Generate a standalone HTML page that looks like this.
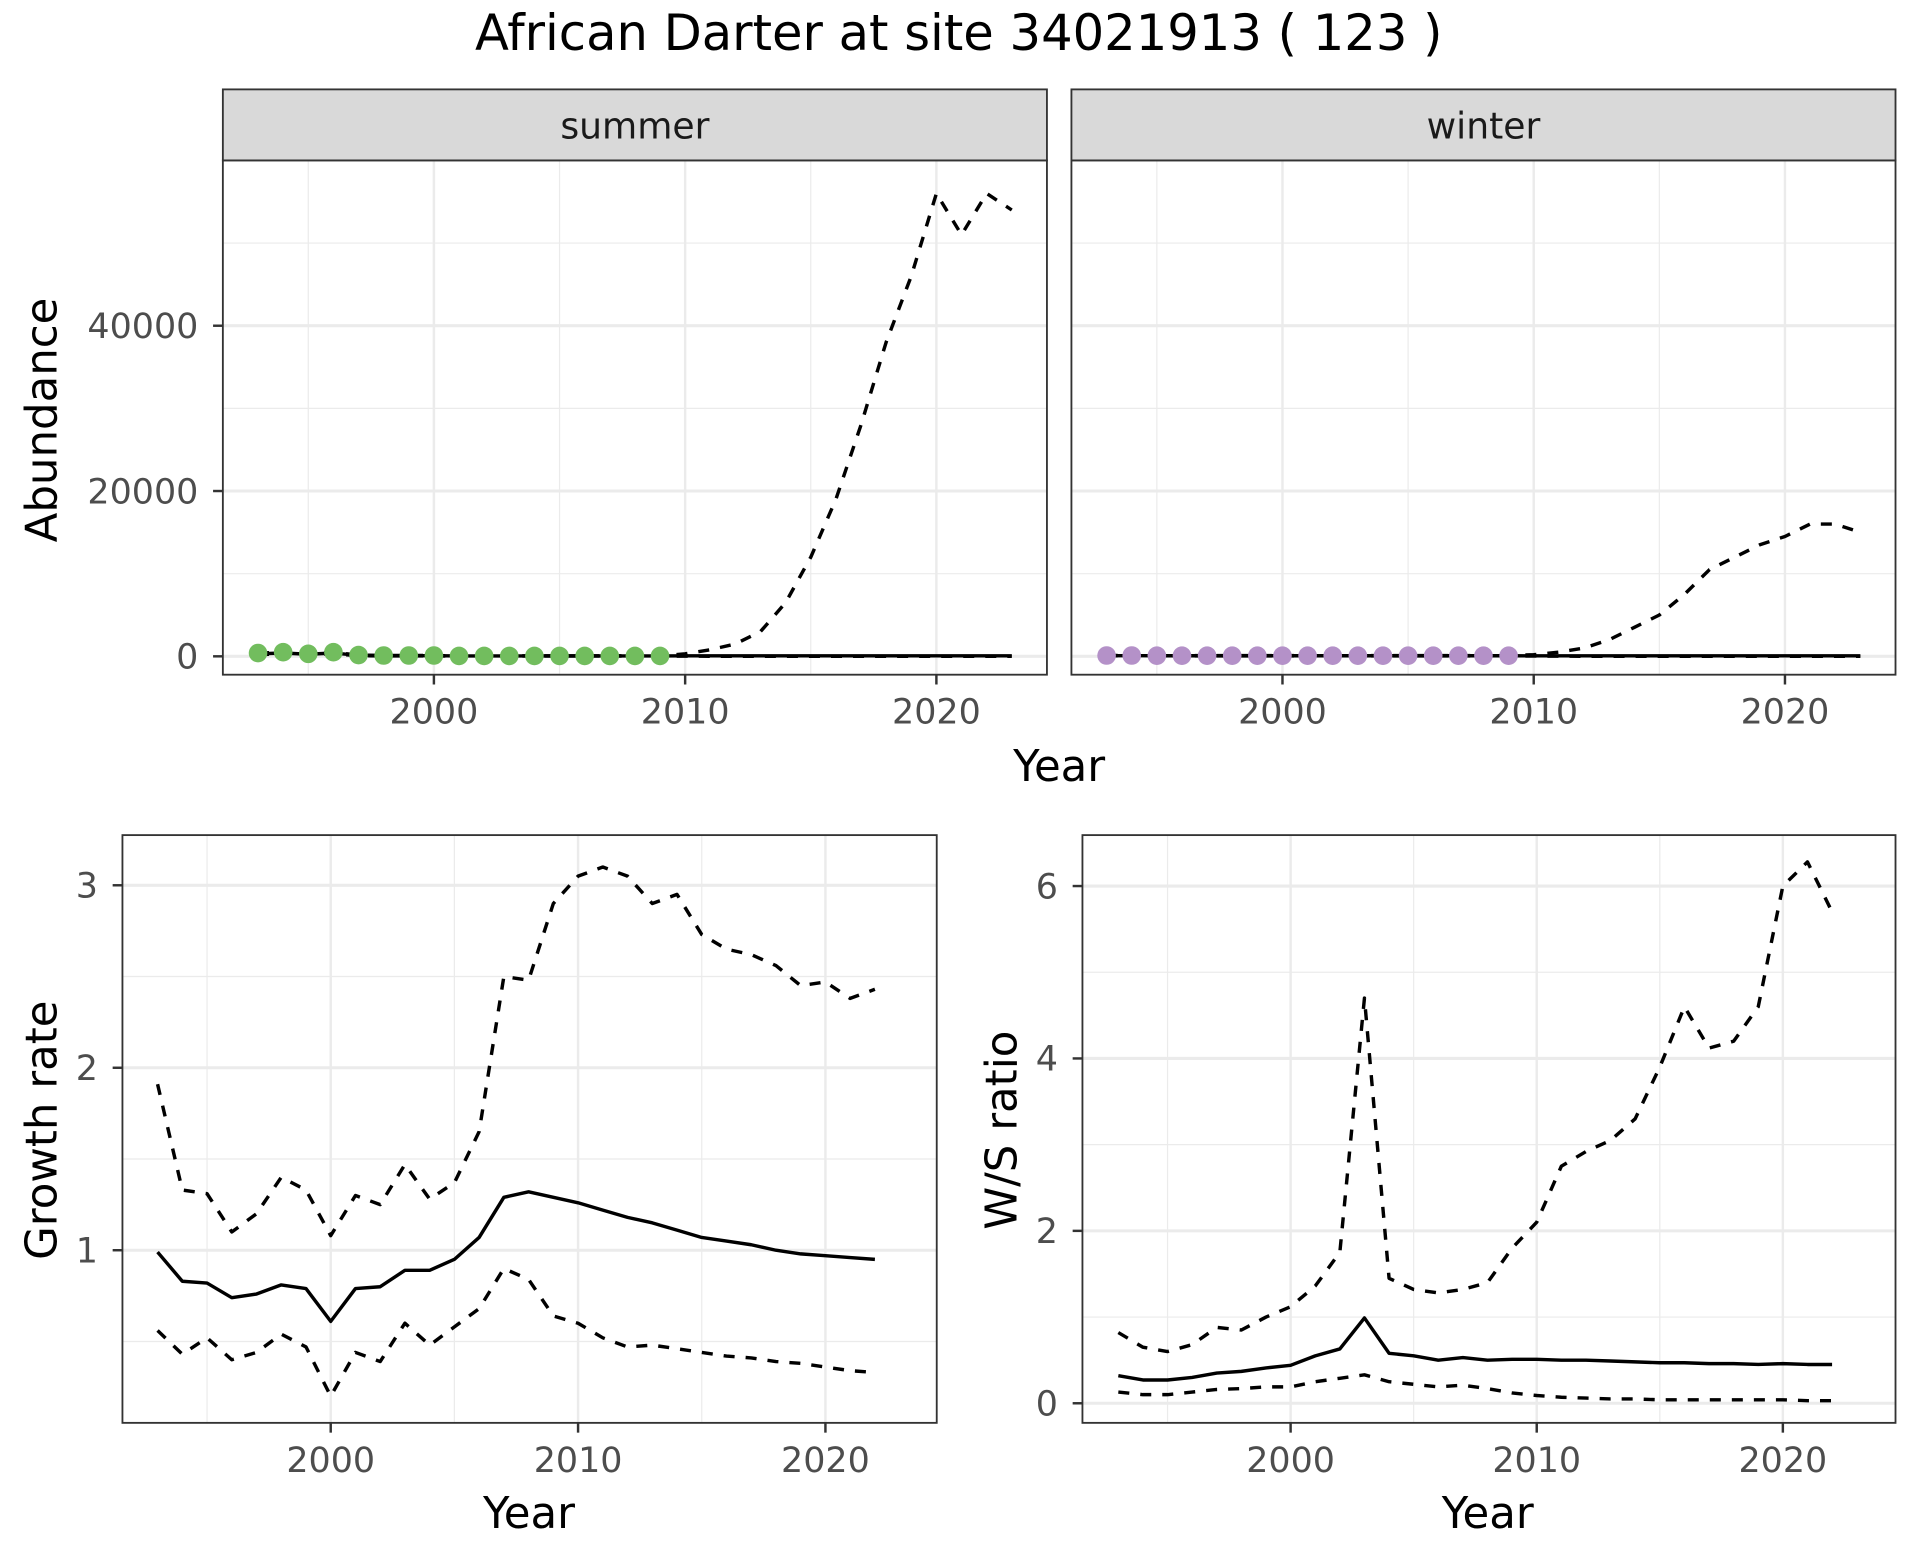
<!DOCTYPE html>
<html><head><meta charset="utf-8">
<style>
html,body{margin:0;padding:0;background:#fff;}
svg{display:block;font-family:"DejaVu Sans","Liberation Sans",sans-serif;}
</style></head>
<body>
<svg id="chart" width="1920" height="1560" viewBox="0 0 1568 1274" xmlns="http://www.w3.org/2000/svg">
<rect width="1568" height="1274" fill="#fff"/>
<text x="783" y="41" font-size="40.5" text-anchor="middle" fill="#000">African Darter at site 34021913 ( 123 )</text>
<g id="root"></g>
</svg>
<script>
// ---- data ----
const obsYears = [1993,1994,1995,1996,1997,1998,1999,2000,2001,2002,2003,2004,2005,2006,2007,2008,2009];
const summerObs = [400,500,300,500,150,100,100,100,50,50,50,50,50,50,50,50,50];
const winterObs = [100,100,80,80,80,80,80,80,80,80,80,80,80,80,80,80,80];
const abYears = [1993,1994,1995,1996,1997,1998,1999,2000,2001,2002,2003,2004,2005,2006,2007,2008,2009,2010,2011,2012,2013,2014,2015,2016,2017,2018,2019,2020,2021,2022,2023];
const summerMid = [300,400,250,400,120,80,80,80,50,50,50,50,50,50,50,50,50,60,60,60,60,60,60,60,60,60,60,60,60,60,60];
const summerHi = [400,500,300,500,150,100,100,100,60,60,60,60,60,60,60,60,60,300,800,1500,3000,6500,12000,19000,28000,38000,46000,56000,51000,56000,54000];
const summerLo = [200,300,200,300,80,50,50,50,30,30,30,30,30,30,30,30,30,20,10,10,5,5,5,5,5,5,5,5,5,5,5];
const winterMid = [80,80,70,70,70,70,70,70,70,70,70,70,70,70,70,70,70,60,60,60,60,60,60,60,60,60,60,60,60,60,60];
const winterHi = [100,100,90,90,90,90,90,90,90,90,90,90,90,90,90,90,90,200,500,1000,2000,3500,5000,7500,10500,12000,13500,14500,16000,16000,15000];
const winterLo = [60,60,50,50,50,50,50,50,50,50,50,50,50,50,50,50,50,30,20,10,5,5,5,5,5,5,5,5,5,5,5];
const grYears = [1993,1994,1995,1996,1997,1998,1999,2000,2001,2002,2003,2004,2005,2006,2007,2008,2009,2010,2011,2012,2013,2014,2015,2016,2017,2018,2019,2020,2021,2022];
const grMid = [0.99,0.83,0.82,0.74,0.76,0.81,0.79,0.61,0.79,0.80,0.89,0.89,0.95,1.07,1.29,1.32,1.29,1.26,1.22,1.18,1.15,1.11,1.07,1.05,1.03,1.00,0.98,0.97,0.96,0.95];
const grHi = [1.91,1.33,1.31,1.10,1.20,1.40,1.33,1.08,1.30,1.25,1.47,1.28,1.37,1.65,2.50,2.48,2.90,3.05,3.10,3.05,2.90,2.95,2.73,2.65,2.62,2.56,2.45,2.47,2.38,2.43];
const grLo = [0.56,0.43,0.52,0.40,0.44,0.54,0.47,0.20,0.44,0.39,0.60,0.48,0.58,0.68,0.90,0.84,0.64,0.60,0.52,0.47,0.48,0.46,0.44,0.42,0.41,0.39,0.38,0.36,0.34,0.33];
const wsMid = [0.32,0.27,0.27,0.30,0.35,0.37,0.41,0.44,0.55,0.63,0.99,0.58,0.55,0.50,0.53,0.50,0.51,0.51,0.50,0.50,0.49,0.48,0.47,0.47,0.46,0.46,0.45,0.46,0.45,0.45];
const wsHi = [0.82,0.65,0.60,0.68,0.88,0.85,1.00,1.12,1.36,1.75,4.70,1.45,1.32,1.28,1.32,1.40,1.80,2.10,2.75,2.92,3.05,3.30,3.90,4.60,4.12,4.20,4.60,6.00,6.28,5.70];
const wsLo = [0.13,0.10,0.10,0.13,0.16,0.17,0.19,0.19,0.25,0.29,0.33,0.25,0.22,0.19,0.21,0.17,0.12,0.09,0.07,0.06,0.05,0.05,0.04,0.04,0.04,0.04,0.04,0.04,0.03,0.03];
const xTicks = [2000,2010,2020];
const xMinor = [1995,2005,2015];
const abTicks = [0,20000,40000];
const abMinor = [10000,30000,50000];
const grTicks = [1,2,3];
const grMinor = [0.5,1.5,2.5];
const wsTicks = [0,2,4,6];
const wsMinor = [1,3,5];

const NS='http://www.w3.org/2000/svg';
const root=document.getElementById('root');
function mk(tag,attrs,parent){const e=document.createElementNS(NS,tag);for(const k in attrs)e.setAttribute(k,attrs[k]);(parent||root).appendChild(e);return e;}

function panel(o){
  const g=mk('g',{});
  
  
  const sx=v=>o.x0+(v-o.xd[0])/(o.xd[1]-o.xd[0])*(o.x1-o.x0);
  const sy=v=>o.y1-(v-o.yd[0])/(o.yd[1]-o.yd[0])*(o.y1-o.y0);
  o.xMinor.forEach(v=>{const l=mk('line',{x1:sx(v),x2:sx(v),y1:o.y0,y2:o.y1,stroke:'#ebebeb','stroke-width':1},g);});
  o.yMinor.forEach(v=>{const l=mk('line',{x1:o.x0,x2:o.x1,y1:sy(v),y2:sy(v),stroke:'#ebebeb','stroke-width':1},g);});
  o.xTicks.forEach(v=>{const l=mk('line',{x1:sx(v),x2:sx(v),y1:o.y0,y2:o.y1,stroke:'#ebebeb','stroke-width':2},g);});
  o.yTicks.forEach(v=>{const l=mk('line',{x1:o.x0,x2:o.x1,y1:sy(v),y2:sy(v),stroke:'#ebebeb','stroke-width':2.5},g);});
  o.series.forEach(s=>{
    const d=s.ys.map((v,i)=>(i?'L':'M')+sx(s.xs[i]).toFixed(2)+','+sy(v).toFixed(2)).join(' ');
    const p=mk('path',{d:d,fill:'none',stroke:'#000','stroke-width':2.8,'stroke-dasharray':s.dash?'9,9':'none','stroke-linejoin':'round'},g);
    
    
  });
  if(o.points){o.points.ys.forEach((v,i)=>{
    const c=mk('circle',{cx:sx(o.points.xs[i]),cy:sy(v),r:7.6,fill:o.points.color},g);
    
    
  });}
  const b=mk('rect',{x:o.x0,y:o.y0,width:o.x1-o.x0,height:o.y1-o.y0,fill:'none',stroke:'#333','stroke-width':1.5},g);
  
  
  o.xTicks.forEach(v=>{
    const t=mk('line',{x1:sx(v),x2:sx(v),y1:o.y1,y2:o.y1+8,stroke:'#333','stroke-width':2},g);
    
    
    const tx=mk('text',{x:sx(v),y:o.y1+40,'font-size':28.5,'text-anchor':'middle',fill:'#4d4d4d'},g);
    tx.textContent=v;
    
    
  });
  if(o.showY){o.yTicks.forEach(v=>{
    const t=mk('line',{x1:o.x0-8,x2:o.x0,y1:sy(v),y2:sy(v),stroke:'#333','stroke-width':2},g);
    
    
    const tx=mk('text',{x:o.x0-20,y:sy(v)+10,'font-size':28.5,'text-anchor':'end',fill:'#4d4d4d'},g);
    tx.textContent=v;
    
    
  });}
  if(o.strip){
    const r=mk('rect',{x:o.x0,y:o.y0-58,width:o.x1-o.x0,height:58,fill:'#d9d9d9',stroke:'#333','stroke-width':1.5},g);
    
    
    const t=mk('text',{x:(o.x0+o.x1)/2,y:o.y0-18,'font-size':29.5,'text-anchor':'middle',fill:'#1a1a1a'},g);
    t.textContent=o.strip;
    
    
  }
  return g;
}

const topX=[1991.6,2024.4], topY=[-2222,60000];
panel({name:'summer-panel',x0:182,x1:855,y0:131,y1:551,xd:topX,yd:topY,xTicks,xMinor,yTicks:abTicks,yMinor:abMinor,showY:true,strip:'summer',
  series:[{name:'summer-upper-ci',xs:abYears,ys:summerHi,dash:true},{name:'summer-lower-ci',xs:abYears,ys:summerLo,dash:true},{name:'summer-estimate',xs:abYears,ys:summerMid}],
  points:{xs:obsYears,ys:summerObs,color:'#72bd5e'}});
panel({name:'winter-panel',x0:875,x1:1548,y0:131,y1:551,xd:topX,yd:topY,xTicks,xMinor,yTicks:abTicks,yMinor:abMinor,showY:false,strip:'winter',
  series:[{name:'winter-upper-ci',xs:abYears,ys:winterHi,dash:true},{name:'winter-lower-ci',xs:abYears,ys:winterLo,dash:true},{name:'winter-estimate',xs:abYears,ys:winterMid}],
  points:{xs:obsYears,ys:winterObs,color:'#b491c8'}});
panel({name:'growth-rate-panel',x0:100,x1:765,y0:682,y1:1162,xd:[1991.58,2024.5],yd:[0.054,3.275],xTicks,xMinor,yTicks:grTicks,yMinor:grMinor,showY:true,
  series:[{name:'growth-upper-ci',xs:grYears,ys:grHi,dash:true},{name:'growth-lower-ci',xs:grYears,ys:grLo,dash:true},{name:'growth-estimate',xs:grYears,ys:grMid}]});
panel({name:'ws-ratio-panel',x0:884,x1:1548,y0:682,y1:1162,xd:[2000-(1054-884)/20.1,2000+(1548-1054)/20.1],yd:[-(1162-1146)/70.4,(1146-682)/70.4],xTicks,xMinor,yTicks:wsTicks,yMinor:wsMinor,showY:true,
  series:[{name:'ws-upper-ci',xs:grYears,ys:wsHi,dash:true},{name:'ws-lower-ci',xs:grYears,ys:wsLo,dash:true},{name:'ws-estimate',xs:grYears,ys:wsMid}]});

function label(txt,x,y,rot,name){
  const t=mk('text',{x:x,y:y,'font-size':35.5,'text-anchor':'middle',fill:'#000',transform:rot?`rotate(-90 ${x} ${y})`:''});
  t.textContent=txt;
  
  
}
label('Year',865,638,false,'top-x-axis-title');
label('Abundance',46,343,true,'abundance-y-axis-title');
label('Year',432,1248,false,'growth-x-axis-title');
label('Growth rate',46,923,true,'growth-y-axis-title');
label('Year',1215,1248,false,'ws-x-axis-title');
label('W/S ratio',830,923,true,'ws-y-axis-title');
</script>
</body></html>
